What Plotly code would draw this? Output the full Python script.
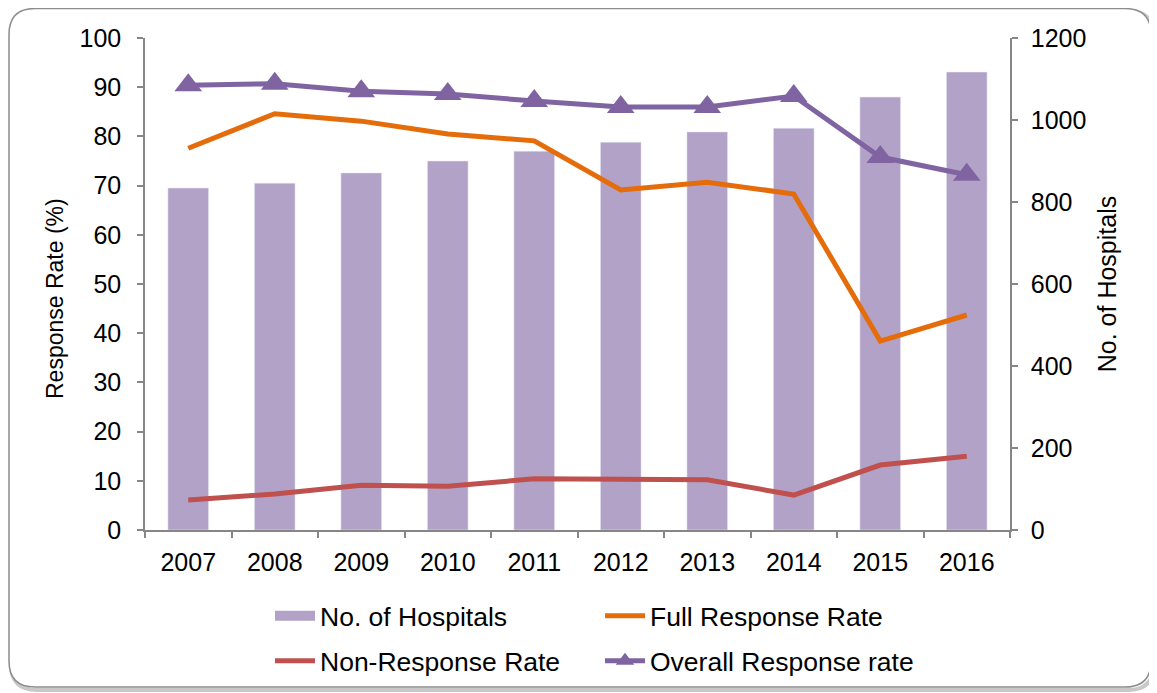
import plotly.graph_objects as go

years = ["2007", "2008", "2009", "2010", "2011", "2012", "2013", "2014", "2015", "2016"]
hospitals = [834, 846, 871, 900, 924, 946, 971, 980, 1056, 1117]
full_rate = [77.6, 84.6, 83.1, 80.5, 79.1, 69.1, 70.7, 68.3, 38.4, 43.7]
non_rate = [6.1, 7.3, 9.1, 8.9, 10.4, 10.2, 10.2, 7.1, 13.2, 15.0]
overall_rate = [90.4, 90.7, 89.2, 88.6, 87.2, 86.0, 86.0, 88.2, 75.8, 72.2]

# page has an 8px body margin, so the figure is offset by 8px
OFF = 8
W, H = 1157 - OFF, 693 - OFF
L, R, T, B = 145 - OFF, 1010 - OFF, 38 - OFF, 530 - OFF
FONT = "Liberation Sans, Arial, sans-serif"
FS_TICK = 25
FS_LEG = 26.5
AX = "#868686"
BAR_COLOR = "#B3A2C7"

fig = go.Figure()
fig.add_trace(go.Bar(x=years, y=hospitals, name="No. of Hospitals", marker_color=BAR_COLOR,
                     yaxis="y", width=0.47, showlegend=False))
# legend swatch for the bars (wide rectangle like the original)
fig.add_trace(go.Scatter(x=[None], y=[None], name="No. of Hospitals", mode="lines",
                         line=dict(color=BAR_COLOR, width=13), yaxis="y", legend="legend"))
fig.add_trace(go.Scatter(x=years, y=full_rate, name="Full Response Rate", mode="lines",
                         line=dict(color="#E46C0A", width=5), yaxis="y2", legend="legend2"))
fig.add_trace(go.Scatter(x=years, y=non_rate, name="Non-Response Rate", mode="lines",
                         line=dict(color="#C0504D", width=5), yaxis="y2", legend="legend3"))
fig.add_trace(go.Scatter(x=years, y=overall_rate, name="Overall Response rate", mode="lines+markers",
                         line=dict(color="#8064A2", width=5),
                         marker=dict(symbol="triangle-up", size=24, color="#8064A2"),
                         yaxis="y2", legend="legend4"))


def px(x):
    return (x - L) / (R - L)


def py(y):
    return (B - y) / (B - T)


def rrect(x0, y0, x1, y1, r):
    X0, X1 = px(x0), px(x1)
    Y0, Y1 = py(y0), py(y1)
    rx = r / (R - L)
    ry = r / (B - T)
    return (f"M {X0+rx},{Y0} L {X1-rx},{Y0} Q {X1},{Y0} {X1},{Y0-ry} "
            f"L {X1},{Y1+ry} Q {X1},{Y1} {X1-rx},{Y1} L {X0+rx},{Y1} "
            f"Q {X0},{Y1} {X0},{Y1+ry} L {X0},{Y0-ry} Q {X0},{Y0} {X0+rx},{Y0} Z")


shapes = [
    dict(type="path", xref="paper", yref="paper", path=rrect(3, 3, 1146, 682, 26),
         line=dict(color="#C8C8C8", width=4), layer="below"),
    dict(type="path", xref="paper", yref="paper", path=rrect(1, 0.5, 1143, 679, 26),
         line=dict(color="#8C8C8C", width=1.5), fillcolor="white", layer="below"),
]

legend_common = dict(orientation="h", xref="container", yref="container", xanchor="left", yanchor="middle",
                     font=dict(family=FONT, size=FS_LEG, color="black"), bgcolor="rgba(0,0,0,0)",
                     itemwidth=40, tracegroupgap=0)
COL1, COL2 = 262, 592
ROW1, ROW2 = 608, 653

fig.update_layout(
    width=W, height=H,
    margin=dict(l=L, r=W - R, t=T, b=H - B, autoexpand=False),
    paper_bgcolor="white", plot_bgcolor="rgba(0,0,0,0)",
    font=dict(family=FONT, size=FS_TICK, color="black"),
    shapes=shapes,
    legend=dict(x=COL1 / W, y=1 - ROW1 / H, **legend_common),
    legend2=dict(x=COL2 / W, y=1 - ROW1 / H, **legend_common),
    legend3=dict(x=COL1 / W, y=1 - ROW2 / H, **legend_common),
    legend4=dict(x=COL2 / W, y=1 - ROW2 / H, **legend_common),
    xaxis=dict(type="category", range=[-0.5, len(years) - 0.5], showline=True, linecolor=AX,
               linewidth=1.5, ticks="outside", tickson="boundaries", ticklen=6, tickcolor=AX,
               tickwidth=1.5, showgrid=False, tickfont=dict(size=FS_TICK), ticklabelstandoff=9),
    yaxis=dict(range=[0, 1200], dtick=200, side="right", showline=True,
               linecolor=AX, linewidth=1.5, ticks="outside", ticklen=6, tickcolor=AX,
               tickwidth=1.5, showgrid=False, zeroline=False, ticklabelstandoff=8,
               tickfont=dict(size=FS_TICK),
               title=dict(text="No. of Hospitals", font=dict(size=25), standoff=13)),
    yaxis2=dict(range=[0, 100], dtick=10, overlaying="y", side="left", showline=True,
                linecolor=AX, linewidth=1.5, ticks="outside", ticklen=6, tickcolor=AX,
                tickwidth=1.5, showgrid=False, zeroline=False, ticklabelstandoff=11,
                tickfont=dict(size=FS_TICK)),
    annotations=[dict(text="Response Rate (%)", textangle=-90, xref="paper", yref="paper",
                      x=px(55 - OFF), y=py(299 - OFF), showarrow=False,
                      font=dict(family=FONT, size=23, color="black"),
                      xanchor="center", yanchor="middle")],
)

fig.write_html("out.html")
